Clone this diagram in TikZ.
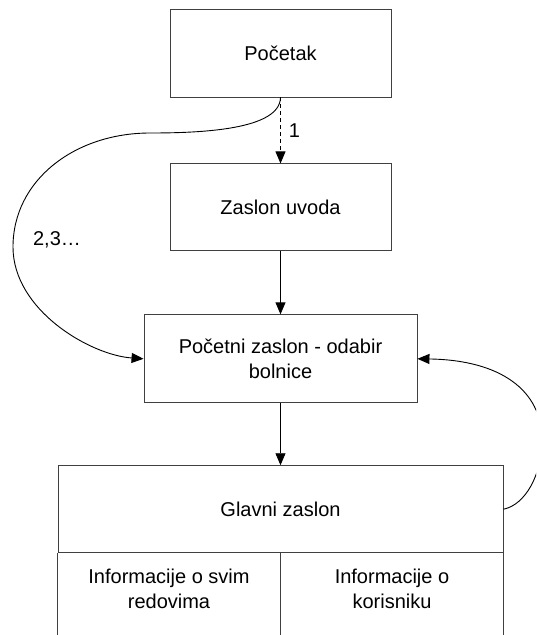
\documentclass[tikz,border=0pt]{standalone}
\usepackage{fontspec}
\setmainfont{Liberation Sans}
\usetikzlibrary{positioning,arrows.meta}
\tikzset{
	box/.style={draw=black!75, line width=0.9pt, rectangle, align=center, minimum width=221pt, minimum height=88pt, inner sep=0pt},
	cell/.style={rectangle, align=center, minimum width=222.5pt, minimum height=70pt, inner sep=0pt},
	arr/.style={-{Triangle[length=12pt,width=10pt]}, line width=0.9pt},
	lbl/.style={inner sep=0pt},
}

\begin{document}
\begin{tikzpicture}[x=1pt,y=-1pt,font=\fontsize{20}{25}\selectfont]
	\clip (0,0) rectangle (536,635);

	\node [box] (pocetak) at (280.5,53) {Početak};
	\node [box, minimum height=87pt, below=66pt of pocetak] (uvod) {Zaslon uvoda};
	\node [box, minimum width=273pt, below=63pt of uvod] (odabir) {Početni zaslon - odabir\\bolnice};
	\node [box, minimum width=445pt, minimum height=87pt, below=62pt of odabir] (glavni) {Glavni zaslon};

	\node [cell, anchor=north west] (redovi) at (glavni.south west) {Informacije o svim\\redovima};
	\node [cell, anchor=north east] (korisnik) at (glavni.south east) {Informacije o\\korisniku};
	\draw [black!75, line width=0.9pt] (glavni.south west) -- ++(0,100);
	\draw [black!75, line width=0.9pt] (glavni.south) -- ++(0,100);
	\draw [black!75, line width=0.9pt] (glavni.south east) -- ++(0,100);

	\draw [arr, dash pattern=on 4pt off 3pt] (pocetak) -- node [lbl, right=8pt] {1} (uvod);
	\draw [arr] (uvod) -- (odabir);
	\draw [arr] (odabir) -- (glavni);

	\draw [arr] (pocetak.south) .. controls (280,130) and (200,133) .. (150,133)
		.. controls (75,133) and (13,180) .. (13,247)
		.. controls (13,310) and (90,355) .. (odabir.west);
	\node [lbl] (ponovno) at (57,240) {2,3…};

	\draw [arr] (glavni.east) .. controls (525,505) and (542,475) .. (542,440)
		.. controls (542,390) and (500,360) .. (odabir.east);
\end{tikzpicture}
\end{document}
